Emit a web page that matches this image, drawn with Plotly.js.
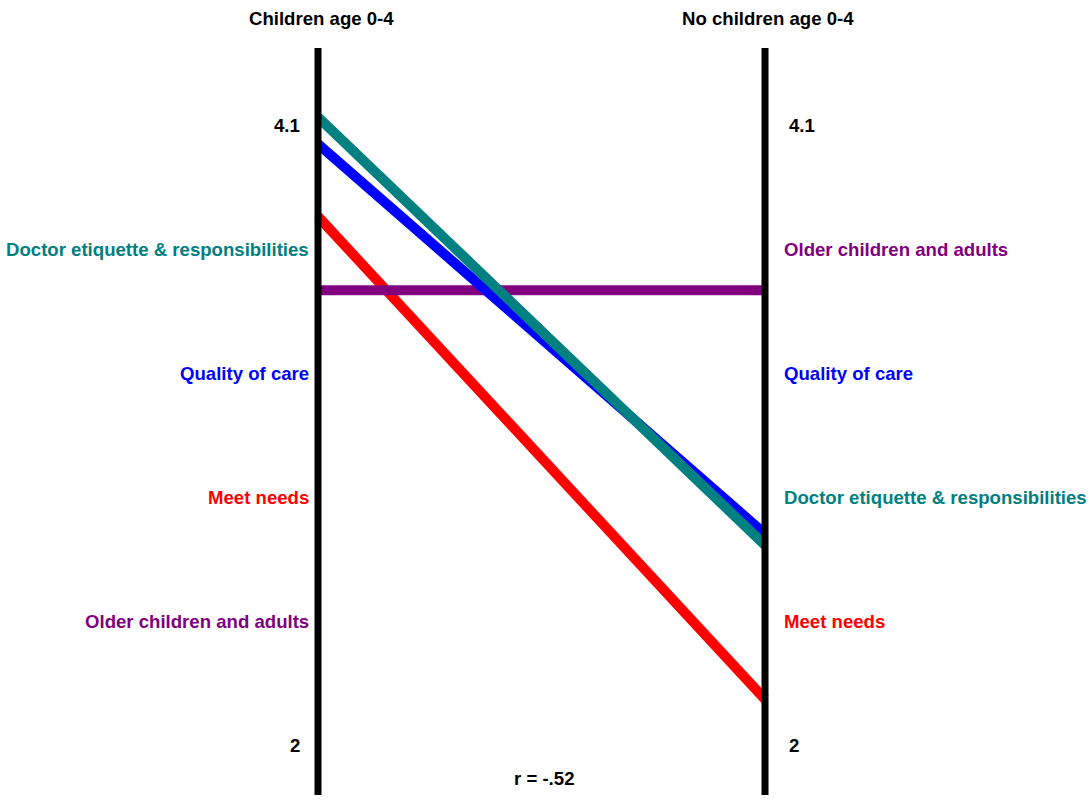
<!DOCTYPE html>
<html>
<head>
<meta charset="utf-8">
<script src="https://cdn.plot.ly/plotly-3.0.1.min.js"></script>
<style>html,body{margin:0;padding:0;background:#fff;}#chart{width:1090px;height:801px;}</style>
</head>
<body>
<div id="chart"></div>
<script>
// ---- data ----
const groups = ["Children age 0-4", "No children age 0-4"];
const seriesNames = ["Meet needs", "Older children and adults", "Quality of care", "Doctor etiquette & responsibilities"];
const seriesColors = ["#FF0000", "#800080", "#0000FF", "#008080"];
const childrenValues = [3.79, 3.54, 4.036, 4.127];
const noChildrenValues = [2.155, 3.54, 2.715, 2.677];
const scaleTicks = [2, 4.1];
const scaleTickLabels = ["2", "4.1"];
const correlationLabel = "r = -.52";

// ---- layout helpers (pixel -> data) ----
const W = 1090, H = 801;
const leftPx = 318, rightPx = 765;
const topTickPx = 125, bottomTickPx = 745;
const xPer = (rightPx - leftPx);
const yPer = (bottomTickPx - topTickPx) / (scaleTicks[1] - scaleTicks[0]);
const xr = [-leftPx / xPer, 1 + (W - rightPx) / xPer];
const yr = [scaleTicks[0] - (H - bottomTickPx) / yPer, scaleTicks[1] + topTickPx / yPer];
const px2x = p => (p - leftPx) / xPer;
const py2y = p => scaleTicks[1] - (p - topTickPx) / yPer;

const FONT = "'Liberation Sans', Arial, sans-serif";
const FS = 18.6;

const traces = seriesNames.map((n, i) => ({
  type: "scatter", mode: "lines", name: n,
  x: [0, 1], y: [childrenValues[i], noChildrenValues[i]],
  line: {color: seriesColors[i], width: 10},
  hoverinfo: "skip", showlegend: false
}));

// rank-ordered label slots between the two scale ticks
function rankOrder(vals) {
  return vals.map((v, i) => i).sort((a, b) => vals[b] - vals[a]);
}
const nSlots = seriesNames.length + 1;
const slotY = k => scaleTicks[1] - (scaleTicks[1] - scaleTicks[0]) * (k + 1) / nSlots;

const annotations = [];
const bold = s => "<b>" + s + "</b>";
rankOrder(childrenValues).forEach((idx, k) => {
  annotations.push({x: px2x(311), y: slotY(k), xref: "x", yref: "y", xanchor: "right", yanchor: "middle",
    text: bold(seriesNames[idx]), showarrow: false, font: {family: FONT, size: FS, color: seriesColors[idx]}});
});
rankOrder(noChildrenValues).forEach((idx, k) => {
  annotations.push({x: px2x(782), y: slotY(k), xref: "x", yref: "y", xanchor: "left", yanchor: "middle",
    text: bold(seriesNames[idx]), showarrow: false, font: {family: FONT, size: FS, color: seriesColors[idx]}});
});
scaleTicks.forEach((t, i) => {
  annotations.push({x: px2x(302), y: t, xref: "x", yref: "y", xanchor: "right", yanchor: "middle",
    text: bold(scaleTickLabels[i]), showarrow: false, font: {family: FONT, size: FS, color: "#000"}});
  annotations.push({x: px2x(787), y: t, xref: "x", yref: "y", xanchor: "left", yanchor: "middle",
    text: bold(scaleTickLabels[i]), showarrow: false, font: {family: FONT, size: FS, color: "#000"}});
});
groups.forEach((g, i) => {
  annotations.push({x: px2x(i === 0 ? 321 : 768), y: py2y(18), xref: "x", yref: "y", xanchor: "center", yanchor: "middle",
    text: bold(g), showarrow: false, font: {family: FONT, size: FS, color: "#000"}});
});
annotations.push({x: px2x(544), y: py2y(778), xref: "x", yref: "y", xanchor: "center", yanchor: "middle",
  text: bold(correlationLabel), showarrow: false, font: {family: FONT, size: FS, color: "#000"}});

const shapes = [0, 1].map(xv => ({
  type: "line", xref: "x", yref: "y", x0: xv, x1: xv, y0: py2y(48), y1: py2y(795),
  line: {color: "#000", width: 7}, layer: "above"
}));

const layout = {
  width: W, height: H,
  margin: {l: 0, r: 0, t: 0, b: 0, pad: 0},
  paper_bgcolor: "#fff", plot_bgcolor: "#fff",
  xaxis: {range: xr, visible: false, fixedrange: true},
  yaxis: {range: yr, visible: false, fixedrange: true},
  showlegend: false,
  annotations: annotations,
  shapes: shapes
};
Plotly.newPlot("chart", traces, layout, {displayModeBar: false, staticPlot: true});
</script>
</body>
</html>
